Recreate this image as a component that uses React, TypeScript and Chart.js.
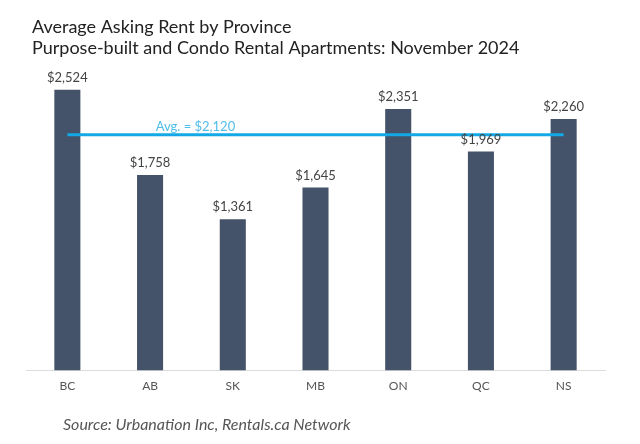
import React, { useEffect, useRef } from "react";
import { Chart, registerables } from "chart.js";

Chart.register(...registerables);

const categories = ["BC", "AB", "SK", "MB", "ON", "QC", "NS"];
const rents = [2524, 1758, 1361, 1645, 2351, 1969, 2260];
const average = 2120;
const averageLine = categories.map(() => average);
const titleLines = [
  "Average Asking Rent by Province",
  "Purpose-built and Condo Rental Apartments: November 2024",
];
const sourceText = "Source: Urbanation Inc, Rentals.ca Network";

const FONT = "Lato, 'Open Sans', sans-serif";

const fmt = (v: number) => "$" + v.toLocaleString("en-US");

export default function App() {
  const ref = useRef<HTMLCanvasElement | null>(null);

  useEffect(() => {
    if (!ref.current) return;
    const textPlugin = {
      id: "texts",
      afterDatasetsDraw(chart: any) {
        const { ctx, scales } = chart;
        const xs = scales.x;
        const ys = scales.y;
        ctx.save();
        // value labels
        ctx.fillStyle = "#444";
        ctx.font = `13px ${FONT}`;
        ctx.textAlign = "center";
        ctx.textBaseline = "middle";
        const meta = chart.getDatasetMeta(0);
        meta.data.forEach((bar: any, i: number) => {
          ctx.fillText(fmt(rents[i]), bar.x, bar.y - 12);
        });
        // average label
        ctx.fillStyle = "#4fbdea";
        ctx.font = `13px ${FONT}`;
        const ax = (xs.getPixelForValue(1) + xs.getPixelForValue(2)) / 2 + 4;
        ctx.fillText("Avg. = " + fmt(average), ax, ys.getPixelForValue(average) - 8);
        // title
        ctx.fillStyle = "#222";
        ctx.textAlign = "left";
        ctx.font = `18px ${FONT}`;
        ctx.fillText(titleLines[0], 32, 27);
        ctx.fillText(titleLines[1], 32, 48);
        // source
        ctx.fillStyle = "#555";
        ctx.font = `italic 16px ${FONT}`;
        ctx.fillText(sourceText, 63, 425);
        ctx.restore();
      },
    };

    const chart = new Chart(ref.current, {
      type: "bar",
      data: {
        labels: categories,
        datasets: [
          {
            type: "bar",
            data: rents,
            backgroundColor: "#445369",
            borderWidth: 0,
            categoryPercentage: 1,
            barPercentage: 0.315,
            order: 2,
          } as any,
          {
            type: "line",
            data: averageLine,
            borderColor: "#12a9e6",
            borderWidth: 3,
            pointRadius: 0,
            fill: false,
            order: 1,
          } as any,
        ],
      },
      options: {
        animation: false,
        responsive: false,
        layout: { padding: { left: 26, right: 35, top: 59, bottom: 43 } },
        plugins: {
          legend: { display: false },
          tooltip: { enabled: false },
        },
        scales: {
          x: {
            grid: { display: false, drawTicks: false },
            border: { display: true, color: "#dcdcdc", width: 1 },
            ticks: { color: "#555", font: { family: FONT, size: 12 }, padding: 8 },
          },
          y: {
            display: false,
            min: 0,
            max: 2800,
          },
        },
      },
      plugins: [textPlugin],
    });
    return () => chart.destroy();
  }, []);

  return (
    <div style={{ position: "fixed", left: 0, top: 0, width: 640, height: 444, background: "#fff" }}>
      <canvas ref={ref} width={640} height={444} style={{ display: "block" }} />
    </div>
  );
}
